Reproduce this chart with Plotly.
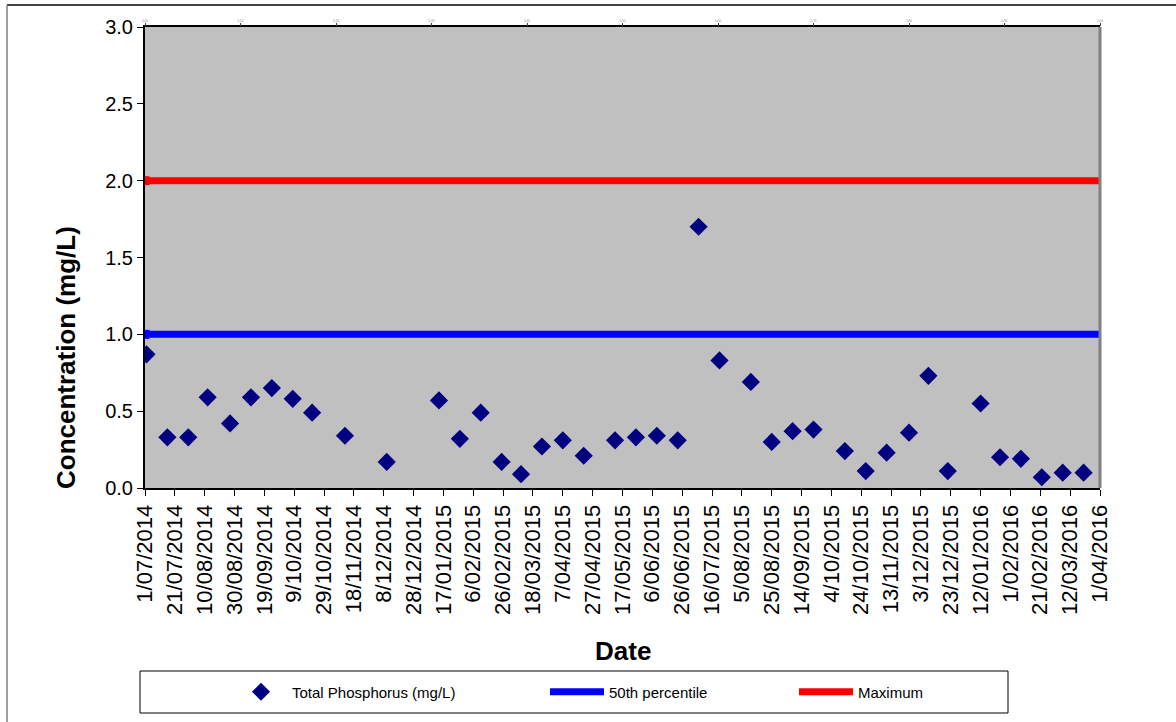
import plotly.graph_objects as go
import pandas as pd

# ---- data ----
sample_dates = [
    "2014-07-02", "2014-07-16", "2014-07-30", "2014-08-12", "2014-08-27",
    "2014-09-10", "2014-09-24", "2014-10-08", "2014-10-21", "2014-11-12",
    "2014-12-10", "2015-01-14", "2015-01-28", "2015-02-11", "2015-02-25",
    "2015-03-10", "2015-03-24", "2015-04-07", "2015-04-21", "2015-05-12",
    "2015-05-26", "2015-06-09", "2015-06-23", "2015-07-07", "2015-07-21",
    "2015-08-11", "2015-08-25", "2015-09-08", "2015-09-22", "2015-10-13",
    "2015-10-27", "2015-11-10", "2015-11-25", "2015-12-08", "2015-12-21",
    "2016-01-12", "2016-01-25", "2016-02-08", "2016-02-22", "2016-03-07",
    "2016-03-21",
]
total_phosphorus = [
    0.87, 0.33, 0.33, 0.59, 0.42,
    0.59, 0.65, 0.58, 0.49, 0.34,
    0.17, 0.57, 0.32, 0.49, 0.17,
    0.09, 0.27, 0.31, 0.21, 0.31,
    0.33, 0.34, 0.31, 1.70, 0.83,
    0.69, 0.30, 0.37, 0.38, 0.24,
    0.11, 0.23, 0.36, 0.73, 0.11,
    0.55, 0.20, 0.19, 0.07, 0.10,
    0.10,
]
line_dates = ["2014-07-01", "2016-04-01"]
percentile_50 = [1.0, 1.0]
maximum = [2.0, 2.0]

x_start, x_end = "2014-07-01", "2016-04-01"
tick_dates = pd.date_range(x_start, x_end, freq="20D")
tick_labels = [f"{d.day}/{d.month:02d}/{d.year}" for d in tick_dates]
top_ticks = [i / 10 for i in range(11)]
top_labels = [f"{t:.2f}" for t in top_ticks]

# ---- layout geometry (pixels) ----
W, H = 1176, 722
L, R, T, B = 145, 1100, 27, 488


def px(x):
    return (x - L) / (R - L)


def py(y):
    return (B - y) / (B - T)


FONT = "Liberation Sans, Arial, sans-serif"

fig = go.Figure()

fig.add_trace(go.Scatter(
    x=sample_dates, y=total_phosphorus, mode="markers",
    name="Total Phosphorus (mg/L)",
    marker=dict(symbol="diamond", size=14, color="#000080",
                line=dict(width=0)),
    legend="legend",
))
fig.add_trace(go.Scatter(
    x=line_dates, y=percentile_50, mode="lines",
    name="50th percentile",
    line=dict(color="#0000FF", width=7),
    legend="legend2",
))
fig.add_trace(go.Scatter(
    x=line_dates[:1], y=percentile_50[:1], mode="markers",
    marker=dict(symbol="square", size=9, color="#0000FF"),
    showlegend=False, hoverinfo="skip",
))
fig.add_trace(go.Scatter(
    x=line_dates, y=maximum, mode="lines",
    name="Maximum",
    line=dict(color="#FF0000", width=7),
    legend="legend3",
))
fig.add_trace(go.Scatter(
    x=line_dates[:1], y=maximum[:1], mode="markers",
    marker=dict(symbol="square", size=9, color="#FF0000"),
    showlegend=False, hoverinfo="skip",
))
# invisible trace to carry the top axis
fig.add_trace(go.Scatter(x=[0, 1], y=[0, 0], xaxis="x2", mode="markers",
                         marker=dict(opacity=0), showlegend=False,
                         hoverinfo="skip"))

leg_common = dict(orientation="h", yanchor="middle", xanchor="left",
                  bgcolor="rgba(0,0,0,0)", borderwidth=0,
                  font=dict(family=FONT, size=15, color="black"))

fig.update_layout(
    width=W, height=H,
    margin=dict(l=L, r=W - R, t=T, b=H - B),
    paper_bgcolor="white",
    plot_bgcolor="#C0C0C0",
    font=dict(family=FONT, color="black"),
    showlegend=True,
    legend=dict(x=px(230), y=py(692), itemwidth=52, **leg_common),
    legend2=dict(x=px(545), y=py(692), itemwidth=54, **leg_common),
    legend3=dict(x=px(794), y=py(692), itemwidth=54, **leg_common),
    xaxis=dict(
        type="date", range=[x_start, x_end],
        tickvals=list(tick_dates), ticktext=tick_labels,
        tickangle=-90, tickfont=dict(size=22, family=FONT),
        ticks="outside", ticklen=6, tickcolor="black", tickwidth=1,
        showgrid=False, zeroline=False,
        showline=True, linecolor="black", linewidth=2, mirror=True,
    ),
    xaxis2=dict(
        overlaying="x", side="top", range=[0, 1],
        tickvals=top_ticks, ticktext=top_labels,
        tickfont=dict(size=3, color="#888888"),
        ticks="outside", ticklen=3, tickcolor="#444444",
        showgrid=False, zeroline=False, showline=False,
    ),
    yaxis=dict(
        range=[0, 3], dtick=0.5, tickformat=".1f",
        tickfont=dict(size=20, family=FONT),
        ticks="outside", ticklen=6, tickcolor="black",
        showgrid=False, zeroline=False,
        showline=True, linecolor="black", linewidth=2,
    ),
    shapes=[
        # right plot edge (grey)
        dict(type="line", xref="paper", yref="paper", x0=1, x1=1,
             y0=0, y1=1, line=dict(color="#808080", width=3)),
        # legend box
        dict(type="rect", xref="paper", yref="paper",
             x0=px(140), x1=px(1008), y0=py(671), y1=py(713),
             line=dict(color="black", width=1), fillcolor="rgba(0,0,0,0)"),
        # outer chart border
        dict(type="line", xref="paper", yref="paper",
             x0=px(7), x1=px(1180), y0=py(5), y1=py(5),
             line=dict(color="black", width=1.5)),
        dict(type="line", xref="paper", yref="paper",
             x0=px(7), x1=px(7), y0=py(5), y1=py(730),
             line=dict(color="#808080", width=1.5)),
    ],
    annotations=[
        dict(text="<b>Concentration (mg/L)</b>", xref="paper", yref="paper",
             x=px(66), y=py(358), textangle=-90, showarrow=False,
             font=dict(size=26, family=FONT, color="black"),
             xanchor="center", yanchor="middle"),
        dict(text="<b>Date</b>", xref="paper", yref="paper",
             x=px(623), y=py(651), showarrow=False,
             font=dict(size=26, family=FONT, color="black"),
             xanchor="center", yanchor="middle"),
    ],
)

fig.write_html("out.html",
               config={"displayModeBar": False},
               post_script="document.body.style.margin='0px';"
                           "document.body.style.overflow='hidden';")
